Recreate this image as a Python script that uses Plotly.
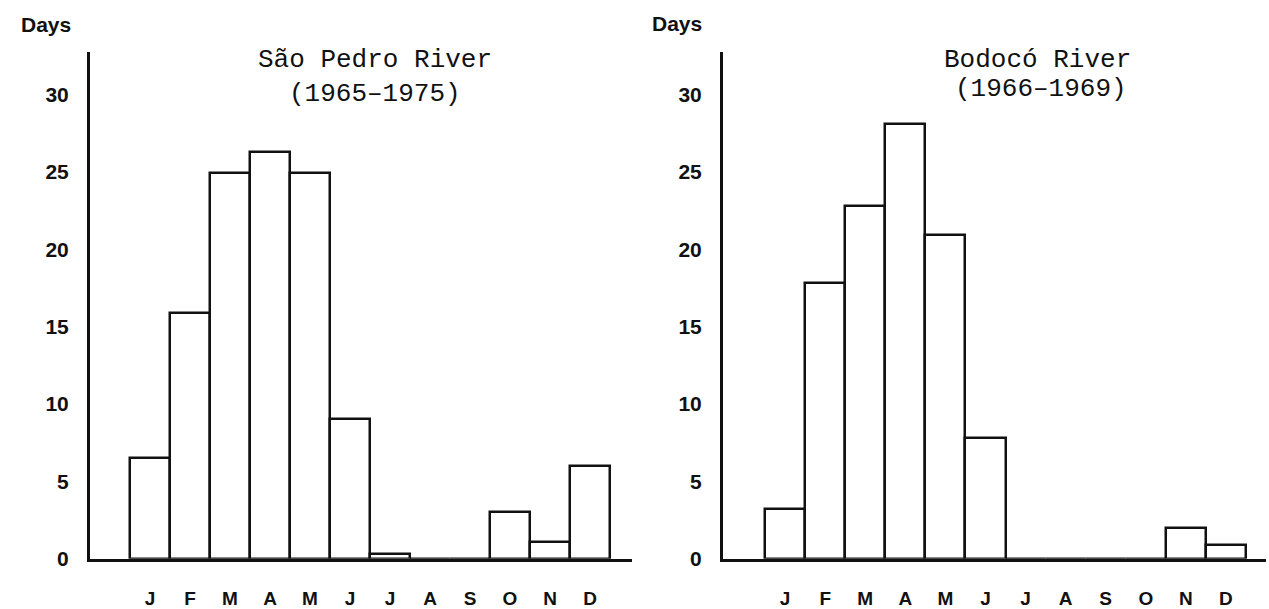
import plotly.graph_objects as go

# Month initials on the x axis
months = ["J", "F", "M", "A", "M", "J", "J", "A", "S", "O", "N", "D"]

# Mean number of days with flow per month
sao_pedro_days = [6.5, 15.9, 24.9, 26.3, 24.9, 9.0, 0.3, 0, 0, 3.0, 1.1, 6.0]
bodoco_days = [3.2, 17.8, 22.8, 28.1, 20.9, 7.8, 0, 0, 0, 0, 2.0, 0.9]

y_ticks = [0, 5, 10, 15, 20, 25, 30]

W, H = 1269, 609
INK = "#111111"

positions = list(range(len(months)))

fig = go.Figure()

bar_style = dict(
    width=1.0,
    marker=dict(color="white", line=dict(color=INK, width=2.5)),
    showlegend=False,
    hoverinfo="x+y",
)

fig.add_trace(go.Bar(x=positions, y=sao_pedro_days, xaxis="x", yaxis="y", **bar_style))
fig.add_trace(go.Bar(x=positions, y=bodoco_days, xaxis="x2", yaxis="y2", **bar_style))


def px_x(p):
    return p / W


def px_y(p):
    return 1 - p / H


y_domain = [px_y(569), px_y(53)]

xaxis_common = dict(
    tickmode="array",
    tickvals=positions,
    ticktext=months,
    ticks="",
    showgrid=False,
    zeroline=False,
    showline=True,
    linecolor=INK,
    linewidth=3,
    tickfont=dict(family="Liberation Sans, Arial, sans-serif", size=19, color=INK, weight="bold"),
    ticklabelstandoff=20,
    fixedrange=True,
)

yaxis_common = dict(
    range=[0, 32.74],
    tickmode="array",
    tickvals=y_ticks,
    ticks="",
    showgrid=False,
    zeroline=False,
    showline=True,
    linecolor=INK,
    linewidth=3,
    domain=y_domain,
    tickfont=dict(family="Liberation Sans, Arial, sans-serif", size=21, color=INK, weight=600),
    ticklabelstandoff=14,
    fixedrange=True,
)

fig.update_layout(
    width=W,
    height=H,
    margin=dict(l=0, r=0, t=0, b=0),
    paper_bgcolor="white",
    plot_bgcolor="white",
    bargap=0,
    xaxis=dict(domain=[px_x(90), px_x(632)], range=[-1.5, 12.05], anchor="y", **xaxis_common),
    yaxis=dict(anchor="x", **yaxis_common),
    xaxis2=dict(domain=[px_x(723), px_x(1266)], range=[-1.55, 12.0], anchor="y2", **xaxis_common),
    yaxis2=dict(anchor="x2", **yaxis_common),
)

sans = dict(family="Liberation Sans, Arial, sans-serif", size=21, color=INK, weight="bold")
mono = dict(family="Liberation Mono, Courier New, monospace", size=26, color=INK)

labels = [
    ("Days", 46, 25, sans),
    ("Days", 677, 24, sans),
    ("São Pedro River", 375, 61, mono),
    ("(1965–1975)", 375, 96, mono),
    ("Bodocó River", 1037, 61, mono),
    ("(1966–1969)", 1041, 91, mono),
]

for text, x, y, font in labels:
    fig.add_annotation(
        text=text,
        x=px_x(x),
        y=px_y(y),
        xref="paper",
        yref="paper",
        xanchor="center",
        yanchor="middle",
        showarrow=False,
        font=font,
    )

fig.write_html("out.html")
